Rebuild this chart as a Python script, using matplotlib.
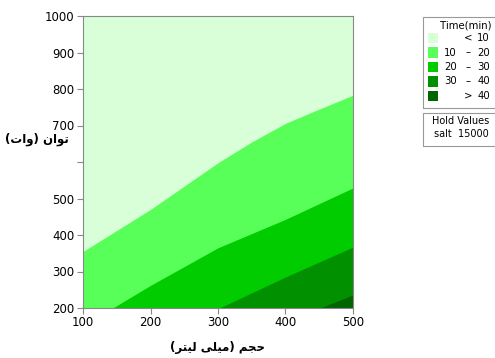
import matplotlib
matplotlib.use("Agg")
import matplotlib.pyplot as plt
from matplotlib.patches import Rectangle

# contour boundaries of Time(min) over volume (x) and power (y)
b10_x = [100, 200, 300, 350, 400, 450, 500]
b10_y = [355, 470, 598, 655, 706, 745, 783]
b20_x = [100, 144, 200, 300, 400, 500]
b20_y = [200, 200, 262, 365, 443, 529]
b30_x = [100, 302, 400, 500]
b30_y = [200, 200, 285, 367]
b40_x = [100, 451, 500]
b40_y = [200, 200, 236]

legend_labels = [("", "<", "10"), ("10", "–", "20"), ("20", "–", "30"),
                 ("30", "–", "40"), ("", ">", "40")]
colors = ["#d8ffd8", "#58ff58", "#00cc00", "#009000", "#006400"]

x_ticks = [100, 200, 300, 400, 500]
y_ticks = [200, 300, 400, 500, 600, 700, 800, 900, 1000]
y_ticklabels = ["200", "300", "400", "500", "", "700", "800", "900", "1000"]

hold_name = "salt"
hold_value = 15000

# minimal Persian shaping (presentation forms + right-to-left order)
FORMS = {
    "ت": "\ufe95\ufe96\ufe97\ufe98", "ن": "\ufee5\ufee6\ufee7\ufee8",
    "ح": "\ufea1\ufea2\ufea3\ufea4", "ج": "\ufe9d\ufe9e\ufe9f\ufea0",
    "م": "\ufee1\ufee2\ufee3\ufee4", "ل": "\ufedd\ufede\ufedf\ufee0",
    "ی": "\ufbfc\ufbfd\ufbfe\ufbff",
    "ا": "\ufe8d\ufe8e", "و": "\ufeed\ufeee", "ر": "\ufead\ufeae",
}


def shape(text):
    out = []
    for i, ch in enumerate(text):
        f = FORMS.get(ch)
        if f is None:
            out.append(ch)
            continue
        prev = text[i - 1] if i > 0 else ""
        nxt = text[i + 1] if i + 1 < len(text) else ""
        join_prev = prev in FORMS and len(FORMS[prev]) == 4
        join_next = len(f) == 4 and nxt in FORMS
        if join_prev and join_next:
            out.append(f[3])
        elif join_prev:
            out.append(f[1])
        elif join_next:
            out.append(f[2])
        else:
            out.append(f[0])
    vis = "".join(reversed(out))
    return vis.translate(str.maketrans("()", ")("))


W, H = 495, 358
fig = plt.figure(figsize=(W / 100, H / 100), dpi=100)
ax = fig.add_axes([83 / W, 1 - 308 / H, 270 / W, 292 / H])

ax.set_facecolor(colors[4])
ax.fill_between(b40_x, b40_y, 1000, color=colors[3], lw=0)
ax.fill_between(b30_x, b30_y, 1000, color=colors[2], lw=0)
ax.fill_between(b20_x, b20_y, 1000, color=colors[1], lw=0)
ax.fill_between(b10_x, b10_y, 1000, color=colors[0], lw=0)

ax.set_xlim(100, 500)
ax.set_ylim(200, 1000)
ax.set_xticks(x_ticks)
ax.set_yticks(y_ticks)
ax.set_yticklabels(y_ticklabels)
ax.tick_params(labelsize=8.5, length=4, color="#888888", pad=2)
for s in ax.spines.values():
    s.set_color("#888888")

fig.text(218 / W, 1 - 347 / H, shape("حجم (میلی لیتر)"), ha="center",
         va="center", fontsize=8.5, fontweight="bold", family="DejaVu Sans")
fig.text(37 / W, 1 - 139 / H, shape("توان (وات)"), ha="center",
         va="center", fontsize=8.5, fontweight="bold", family="DejaVu Sans")

# legend boxes drawn in figure pixels
def px(x, y):
    return x / W, 1 - y / H


def box(x0, y0, x1, y1):
    fig.patches.append(Rectangle(px(x0, y1), (x1 - x0) / W, (y1 - y0) / H,
                                 transform=fig.transFigure, fill=False,
                                 edgecolor="#999999", lw=0.8))


box(423, 17, 500, 108)
fig.text(*px(466, 25), "Time(min)", ha="center", va="center", fontsize=7.3)
for i, (lo, sep, hi) in enumerate(legend_labels):
    yc = 38 + i * 14.5
    fig.patches.append(Rectangle(px(428, yc + 5), 10 / W, 10 / H,
                                 transform=fig.transFigure,
                                 facecolor=colors[i], lw=0))
    fig.text(*px(444, yc), lo, ha="left", va="center", fontsize=7.3)
    fig.text(*px(468, yc), sep, ha="center", va="center", fontsize=7.3)
    fig.text(*px(490, yc), hi, ha="right", va="center", fontsize=7.3)

box(423, 113, 500, 146)
fig.text(*px(461, 121), "Hold Values", ha="center", va="center", fontsize=7)
fig.text(*px(461, 134), f"{hold_name}  {hold_value}", ha="center",
         va="center", fontsize=7)

fig.savefig("out.png", dpi=100)
